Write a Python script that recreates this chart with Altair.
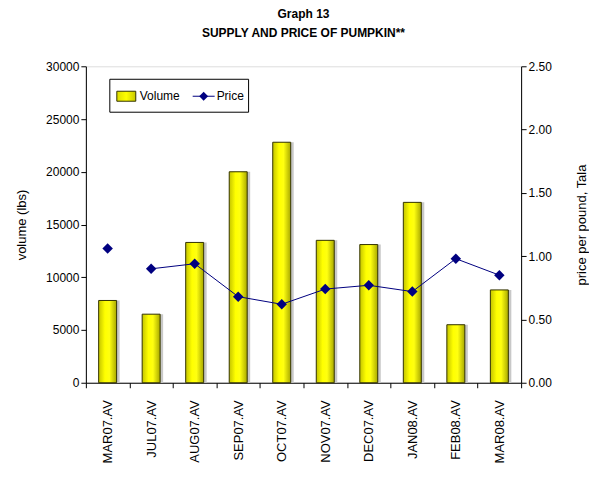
import altair as alt
import pandas as pd

months = ["MAR07.AV", "JUL07.AV", "AUG07.AV", "SEP07.AV", "OCT07.AV",
          "NOV07.AV", "DEC07.AV", "JAN08.AV", "FEB08.AV", "MAR08.AV"]
volume = [7800, 6500, 13300, 20000, 22800, 13500, 13100, 17100, 5500, 8800]
price = [1.06, 0.90, 0.94, 0.68, 0.62, 0.74, 0.77, 0.72, 0.98, 0.85]
segment = [0, 1, 1, 1, 1, 1, 1, 1, 1, 1]

df = pd.DataFrame({"month": months, "volume": volume, "price": price, "segment": segment})

FONT = "Liberation Sans"

x = alt.X("month:N", sort=months, title=None,
          scale=alt.Scale(paddingInner=0, paddingOuter=0),
          axis=alt.Axis(labelAngle=270, labelAlign="right", labelBaseline="middle",
                        tickBand="extent", labelFontSize=13, labelPadding=12,
                        domainColor="black", tickColor="black", labelColor="black"))

vol_axis = alt.Axis(values=[0, 5000, 10000, 15000, 20000, 25000, 30000], format="d",
                    grid=False, labelFontSize=12, titleFontSize=13,
                    titleFontWeight="normal", titlePadding=17,
                    domainColor="black", tickColor="black",
                    labelColor="black", titleColor="black")
vol_y = alt.Y("volume:Q", title="volume (lbs)",
              scale=alt.Scale(domain=[0, 30000]), axis=vol_axis)

shadow = alt.Chart(df).mark_bar(size=18, color="#c8c8c8", xOffset=3).encode(
    x=x, y=vol_y,
)

bars = alt.Chart(df).mark_bar(
    size=18, stroke="#333300", strokeWidth=1,
    fill=alt.Gradient(gradient="linear", x1=0, x2=1, y1=0, y2=0,
                      stops=[alt.GradientStop(offset=0, color="#c4c400"),
                             alt.GradientStop(offset=0.35, color="#ffff00"),
                             alt.GradientStop(offset=0.6, color="#ffff10"),
                             alt.GradientStop(offset=1, color="#a8a800")]),
).encode(
    x=x, y=vol_y,
)

left = alt.layer(shadow, bars)

price_axis = alt.Axis(orient="right", values=[0, 0.5, 1.0, 1.5, 2.0, 2.5], format=".2f",
                      grid=False, labelFontSize=12, titleFontSize=13,
                      titleFontWeight="normal", titleAngle=270, titlePadding=37,
                      domainColor="black", tickColor="black",
                      labelColor="black", titleColor="black")
price_y = alt.Y("price:Q", title="price per pound, Tala",
                scale=alt.Scale(domain=[0, 2.5]), axis=price_axis)

line = alt.Chart(df).mark_line(color="#000080", strokeWidth=1).encode(
    x=x, y=price_y, detail="segment:N",
)
pts = alt.Chart(df).mark_point(shape="diamond", filled=True, color="#000080",
                               size=110, opacity=1).encode(
    x=x, y=price_y,
)
right = alt.layer(line, pts)

one = pd.DataFrame({"a": [0]})
legend_box = alt.Chart(one).mark_rect(fill="white", stroke="black", strokeWidth=1).encode(
    x=alt.value(24), x2=alt.value(163), y=alt.value(13), y2=alt.value(46))
legend_sw = alt.Chart(one).mark_rect(
    stroke="#333300", strokeWidth=1,
    fill=alt.Gradient(gradient="linear", x1=0, x2=1, y1=0, y2=0,
                      stops=[alt.GradientStop(offset=0, color="#dddd00"),
                             alt.GradientStop(offset=0.5, color="#ffff00"),
                             alt.GradientStop(offset=1, color="#c8c800")])).encode(
    x=alt.value(31), x2=alt.value(50), y=alt.value(25), y2=alt.value(35))
legend_t1 = alt.Chart(one).mark_text(align="left", baseline="middle", fontSize=12,
                                     font=FONT, color="black").encode(
    x=alt.value(54), y=alt.value(30), text=alt.value("Volume"))
legend_ln = alt.Chart(one).mark_rule(color="#000080", strokeWidth=1).encode(
    x=alt.value(107), x2=alt.value(129), y=alt.value(30))
legend_pt = alt.Chart(one).mark_point(shape="diamond", filled=True, color="#000080",
                                      size=80, opacity=1).encode(
    x=alt.value(118), y=alt.value(30))
legend_t2 = alt.Chart(one).mark_text(align="left", baseline="middle", fontSize=12,
                                     font=FONT, color="black").encode(
    x=alt.value(131), y=alt.value(30), text=alt.value("Price"))
legend = alt.layer(legend_box, legend_sw, legend_t1, legend_ln, legend_pt, legend_t2)

chart = alt.layer(left, right, legend).resolve_scale(y="independent").properties(
    width=436, height=317,
    padding={"left": 7, "top": 0, "right": 0, "bottom": 0},
    title=alt.TitleParams(["Graph 13", "SUPPLY AND PRICE OF PUMPKIN**"],
                          fontSize=12, fontWeight="bold", font=FONT, anchor="middle",
                          lineHeight=19, offset=20, color="black"),
).configure_view(stroke="#444444", strokeWidth=1).configure_axis(
    labelFont=FONT, titleFont=FONT
).configure(background="white")

chart.save("out.html", embed_options={"renderer": "svg", "actions": False})
